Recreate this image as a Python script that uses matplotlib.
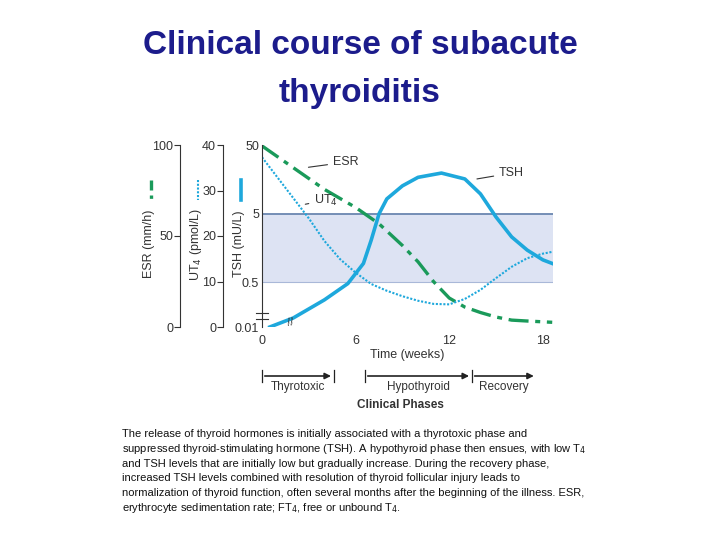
import matplotlib
matplotlib.use('Agg')
import matplotlib.pyplot as plt
import matplotlib.transforms as mtransforms
import numpy as np
from matplotlib.lines import Line2D

plt.rcParams['font.family'] = ['Liberation Sans', 'DejaVu Sans']

# curves (weeks)
esr_weeks = [0, 2, 4, 6, 7.5, 9, 10, 11, 12, 13, 14, 15, 16, 17, 18.6]
esr_vals = [100, 88, 76, 66, 57, 45, 36, 25, 16, 11, 8, 5.5, 3.8, 3.3, 2.6]  # mm/h

ut4_weeks = [0, 1, 2, 3, 4, 5, 6, 7, 8, 9, 10, 11, 12, 13, 14, 15, 16, 17, 18, 18.6]
ut4_vals = [37.5, 33, 28.5, 24, 19, 15, 12, 9.5, 8, 6.8, 5.8, 5.1, 5.0, 6.2, 8.2,
            10.8, 13.3, 15.2, 16.2, 16.6]  # pmol/L

tsh_weeks = [0.5, 2, 4, 5.5, 6.5, 7, 7.5, 8, 9, 10, 11.5, 13, 14, 15, 16, 17, 18, 18.6]
tsh_vals = [0.01, 0.022, 0.108, 0.45, 0.94, 2.06, 4.97, 8.2, 12.7, 16.9, 19.5, 16.0,
            9.7, 4.46, 2.29, 1.47, 1.06, 0.94]  # mU/L

x_ticks = [0, 6, 12, 18]
esr_ticks = [0, 50, 100]
ut4_ticks = [0, 10, 20, 30, 40]
tsh_ticks = [0.01, 0.5, 5, 50]
tsh_tick_labels = ['0.01', '0.5', '5', '50']
normal_tsh = (0.5, 5)

phases = [('Thyrotoxic', 0, 4.6), ('Hypothyroid', 6.6, 13.45), ('Recovery', 13.45, 17.6)]

GREEN = '#1a9a5a'
BLUE = '#1ea8dc'
TITLE = '#1c1c8c'


def tsh_to_plot(v):
    """Broken log scale for TSH mapped onto a 0-100 plotting range."""
    v = np.asarray(v, dtype=float)
    hi = 24.7 + 37.9 * np.log10(np.maximum(v, 1e-9) / 0.5)
    lo = 14.5 * np.log10(np.maximum(v, 1e-9) / 0.01)
    return np.where(v >= 0.5, hi, lo)


fig = plt.figure(figsize=(7.2, 5.4), dpi=100)
ax = fig.add_axes([262 / 720, 1 - 327 / 540, 291 / 720, 182 / 540])
ax.set_xlim(0, 18.65)
ax.set_ylim(0, 100)
for s in ['top', 'right', 'bottom']:
    ax.spines[s].set_visible(False)
ax.spines['left'].set_color('#333333')

lo_band, hi_band = tsh_to_plot(normal_tsh)
ax.axhspan(lo_band, hi_band, color='#dde3f3', lw=0)
ax.axhline(hi_band, color='#6a86b0', lw=1.3)
ax.axhline(lo_band, color='#a9b8d8', lw=0.8)

ax.plot(esr_weeks, esr_vals, color=GREEN, lw=2.4, ls=(0, (6, 2, 1.5, 2)))
ax.plot(ut4_weeks, np.array(ut4_vals) * 2.5, color=BLUE, lw=1.5, ls=(0, (1, 0.8)))
ax.plot(tsh_weeks, tsh_to_plot(tsh_vals), color=BLUE, lw=2.6)
# break marks on TSH line and axis
ax.text(1.8, 2.5, '//', color='#333333', fontsize=8, ha='center', va='center', rotation=10)
ax.plot([-0.4, 0.4], [7.5, 7.5], color='#333333', lw=0.8, clip_on=False)
ax.plot([-0.4, 0.4], [4.5, 4.5], color='#333333', lw=0.8, clip_on=False)

ax.set_yticks(tsh_to_plot(tsh_ticks))
ax.set_yticklabels(tsh_tick_labels, fontsize=9, color='#333333')
ax.set_xticks(x_ticks)
ax.set_xticklabels([str(t) for t in x_ticks])
ax.tick_params(axis='x', length=0, labelsize=9, labelcolor='#333333', pad=6)
ax.tick_params(axis='y', length=0, pad=2)
ax.set_xlabel('Time (weeks)', fontsize=9, color='#333333', labelpad=1)

# extra y axes
for ticks, offset, scale in [(ut4_ticks, 39, 2.5), (esr_ticks, 82, 1.0)]:
    tw = ax.twinx()
    tw.set_ylim(0, 100 / scale)
    for s in ['top', 'right', 'bottom']:
        tw.spines[s].set_visible(False)
    tw.spines['left'].set_visible(True)
    tw.spines['left'].set_position(('outward', offset * 0.72))
    tw.spines['left'].set_color('#333333')
    tw.yaxis.set_ticks_position('left')
    tw.set_yticks(ticks)
    tw.tick_params(axis='y', length=4, labelsize=9, labelcolor='#333333', color='#333333', pad=1)
    tw.tick_params(axis='x', bottom=False, labelbottom=False)

# annotations
ax.annotate('ESR', xy=(2.8, 88), xytext=(4.55, 91), fontsize=9, color='#333333',
            va='center', arrowprops=dict(arrowstyle='-', color='#333333', lw=0.8))
ax.annotate('UT$_4$', xy=(2.6, 67.5), xytext=(3.35, 70), fontsize=9, color='#333333',
            va='center', arrowprops=dict(arrowstyle='-', color='#333333', lw=0.8))
ax.annotate('TSH', xy=(13.6, 81.5), xytext=(15.2, 85), fontsize=9, color='#333333',
            va='center', arrowprops=dict(arrowstyle='-', color='#333333', lw=0.8))

# axis labels with line samples
for x_px, label, style, lw in [(149, 'ESR (mm/h)', (0, (3, 1.5, 1, 1.5)), 2.4),
                               (196, 'UT$_4$ (pmol/L)', (0, (1, 0.8)), 1.5),
                               (239, 'TSH (mU/L)', '-', 2.6)]:
    fig.text(x_px / 720, 1 - 244 / 540, label, rotation=90, fontsize=9, color='#333333',
             ha='center', va='center')
    col = GREEN if 'ESR' in label else BLUE
    fig.add_artist(Line2D([(x_px + 2) / 720] * 2, [1 - 180 / 540, 1 - 200 / 540],
                          color=col, lw=lw, ls=style))

# clinical phases
trans = mtransforms.blended_transform_factory(ax.transData, fig.transFigure)
y_arr = 1 - 376 / 540
for name, a, b in phases:
    ax.annotate('', xy=(b, y_arr), xytext=(a, y_arr), xycoords=trans, textcoords=trans,
                arrowprops=dict(arrowstyle='-|>', color='#222222', lw=1.2, mutation_scale=9),
                annotation_clip=False)
    ax.plot([a, a], [y_arr - 0.012, y_arr + 0.012], transform=trans, color='#222222',
            lw=0.9, clip_on=False)
    ax.text((a + b) / 2, 1 - 387 / 540, name, transform=trans, fontsize=8.5,
            color='#333333', ha='center', va='center')
ax.plot([4.6, 4.6], [y_arr - 0.012, y_arr + 0.012], transform=trans, color='#222222',
        lw=0.9, clip_on=False)
fig.text(400 / 720, 1 - 405 / 540, 'Clinical Phases', fontsize=8.5, fontweight='bold',
         color='#333333', ha='center', va='center')

fig.text(0.5, 1 - 45 / 540, 'Clinical course of subacute', fontsize=24, color=TITLE,
         fontweight='bold', ha='center', va='center')
fig.text(0.5, 1 - 93 / 540, 'thyroiditis', fontsize=24, color=TITLE,
         fontweight='bold', ha='center', va='center')

caption = [
    'The release of thyroid hormones is initially associated with a thyrotoxic phase and',
    'suppressed thyroid-stimulating hormone (TSH). A hypothyroid phase then ensues, with low T$_4$',
    'and TSH levels that are initially low but gradually increase. During the recovery phase,',
    'increased TSH levels combined with resolution of thyroid follicular injury leads to',
    'normalization of thyroid function, often several months after the beginning of the illness. ESR,',
    'erythrocyte sedimentation rate; FT$_4$, free or unbound T$_4$.',
]
for i, line in enumerate(caption):
    fig.text(122 / 720, 1 - (434 + i * 14.8) / 540, line, fontsize=8, color='#111111',
             ha='left', va='center')

fig.savefig('out.png', dpi=100)
